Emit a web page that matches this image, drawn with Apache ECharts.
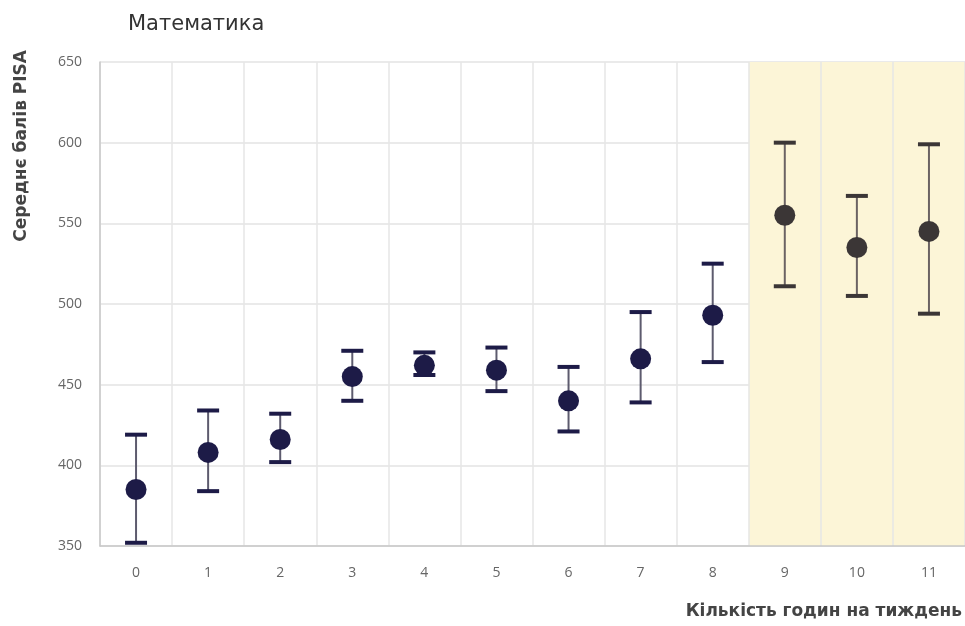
<!DOCTYPE html>
<html><head><meta charset="utf-8">
<script src="https://cdn.jsdelivr.net/npm/echarts@6/dist/echarts.min.js"></script>
<style>html,body{margin:0;padding:0;background:#fff}#c{width:965px;height:626px}</style>
</head><body><div id="c"></div>
<script>
const categories = ['0','1','2','3','4','5','6','7','8','9','10','11'];
const means = [385, 408, 416, 455, 462, 459, 440, 466, 493, 555, 535, 545];
const upper = [419, 434, 432, 471, 470, 473, 461, 495, 525, 600, 567, 599];
const lower = [352, 384, 402, 440, 456, 446, 421, 439, 464, 511, 505, 494];
const yTicks = [350, 400, 450, 500, 550, 600, 650];
const shadedFrom = 9;

const navy = '#1d1b47', grey = '#3b3636';
const colorOf = i => i >= shadedFrom ? grey : navy;

const chart = echarts.init(document.getElementById('c'));
chart.setOption({
  animation: false,
  title: { text: 'Математика', left: 123, top: 9,
    textStyle: { fontFamily: 'DejaVu Sans', fontSize: 21, fontWeight: 'normal', color: '#333' } },
  grid: { left: 100, right: 0, top: 62, bottom: 80 },
  xAxis: {
    type: 'category', data: categories,
    name: 'Кількість годин на тиждень', nameLocation: 'end',
    nameGap: 0,
    nameTextStyle: { fontFamily: 'DejaVu Sans', fontSize: 17, fontWeight: 'bold', color: '#444',
      align: 'right', verticalAlign: 'top', padding: [57, 3, 0, 0] },
    axisLine: { lineStyle: { color: '#c8c8c8', width: 1.5 } },
    axisTick: { show: false },
    axisLabel: { fontFamily: 'Open Sans', fontSize: 14, color: '#666', margin: 20 },
    splitLine: { show: true, lineStyle: { color: '#e6e6e6', width: 1.5 } },
    splitArea: { show: true, areaStyle: { color: categories.map((c, i) => i >= shadedFrom ? '#fcf5d7' : 'rgba(255,255,255,0)') } }
  },
  yAxis: {
    type: 'value', min: yTicks[0], max: yTicks[yTicks.length - 1], interval: 50,
    name: 'Середнє балів PISA', nameLocation: 'end', nameRotate: 90,
    nameGap: 0,
    nameTextStyle: { fontFamily: 'DejaVu Sans', fontSize: 17, fontWeight: 'bold', color: '#444',
      align: 'right', verticalAlign: 'bottom', padding: [0, -12, 70, 0] },
    axisLine: { show: true, lineStyle: { color: '#c8c8c8', width: 1.5 } },
    axisTick: { show: false },
    axisLabel: { fontFamily: 'Open Sans', fontSize: 14, color: '#666', margin: 18 },
    splitLine: { lineStyle: { color: '#e3e3e3', width: 1.5 } }
  },
  series: [
    {
      type: 'custom',
      data: categories.map((c, i) => [i, lower[i], upper[i]]),
      renderItem: function (params, api) {
        const i = api.value(0);
        const lo = api.coord([i, api.value(1)]);
        const hi = api.coord([i, api.value(2)]);
        const hw = 11;
        const col = colorOf(i);
        return {
          type: 'group',
          children: [
            { type: 'line', shape: { x1: lo[0], y1: lo[1], x2: hi[0], y2: hi[1] },
              style: { stroke: i >= shadedFrom ? '#6b6363' : '#5d5b6e', lineWidth: 2 } },
            { type: 'line', shape: { x1: hi[0] - hw, y1: hi[1], x2: hi[0] + hw, y2: hi[1] },
              style: { stroke: col, lineWidth: 4 } },
            { type: 'line', shape: { x1: lo[0] - hw, y1: lo[1], x2: lo[0] + hw, y2: lo[1] },
              style: { stroke: col, lineWidth: 4 } }
          ]
        };
      },
      z: 3
    },
    {
      type: 'scatter',
      symbolSize: 21,
      data: means.map((v, i) => ({ value: [i, v], itemStyle: { color: colorOf(i), opacity: 1 } })),
      z: 4
    }
  ]
});
</script></body></html>
